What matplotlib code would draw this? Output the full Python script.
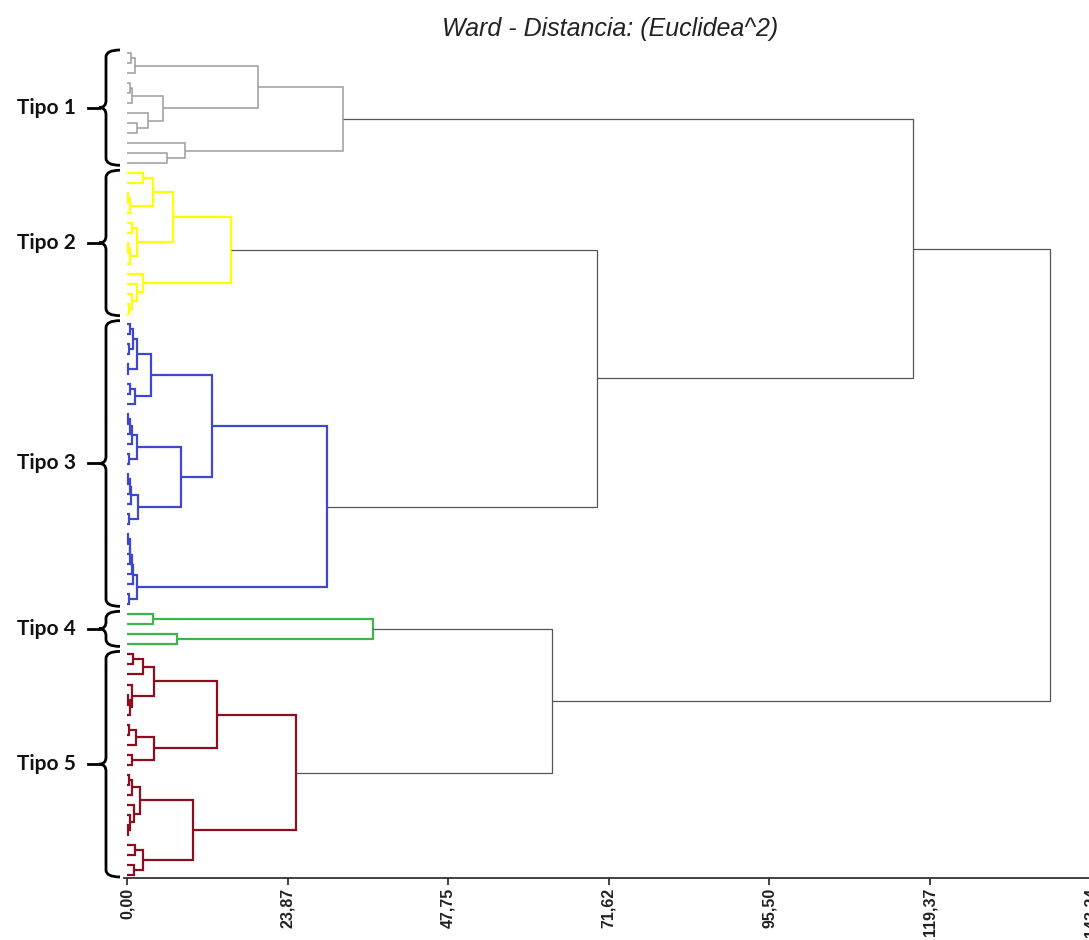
import matplotlib
matplotlib.use("Agg")
import matplotlib.pyplot as plt
from matplotlib.path import Path
from matplotlib.patches import PathPatch

# ---------------- data ----------------
title = "Ward - Distancia: (Euclidea^2)"
cluster_names = ["Tipo 1", "Tipo 2", "Tipo 3", "Tipo 4", "Tipo 5"]
cluster_colors = ["#9c9c9c", "#ffff00", "#3f48cc", "#3cb54a", "#8b0f1c"]
link_color = "#555555"

# clusters as nested (left, right, height) tuples, leaves = local indices
tipo1_tree = ((((0, 1, 0.6), 2, 1.2),
               (((3, 4, 0.4), 5, 0.8), (6, (7, 8, 1.5), 3.1), 5.4), 19.5),
              (9, (10, 11, 6.0), 8.6), 32.1)

tipo2_tree = (((((0, 1, 2.4), ((2, 3, 0.2), 4, 0.5), 3.9),
                ((5, 6, 0.8), ((7, 8, 0.2), 9, 0.5), 1.5), 6.9),
               (10, (11, (12, (13, 14, 0.3), 0.8), 1.5), 2.4), 15.5))

tipo3_tree = (((((((0, 1, 0.5), (2, 3, 0.3), 0.9), (4, 5, 0.2), 1.5),
                 ((6, 7, 0.4), 8, 1.2), 3.6),
                (((((9, 10, 0.2), 11, 0.4), 12, 0.7), (13, 14, 0.3), 1.5),
                 ((((15, 16, 0.2), 17, 0.4), 18, 0.6), (19, 20, 0.3), 1.7), 8.0),
                12.6),
               ((((((21, 22, 0.2), 23, 0.4), 24, 0.5), 25, 0.7), 26, 0.9),
                (27, 28, 0.3), 1.5), 29.7))

tipo4_tree = ((0, 1, 3.9), (2, 3, 7.4), 36.6)

tipo5_tree = (((((0, 1, 0.9), 2, 2.4), (3, ((4, 5, 0.2), 6, 0.4), 0.7), 4.0),
               (((7, 8, 0.3), 9, 1.4), (10, 11, 0.7), 4.0), 13.4),
              ((((12, 13, 0.3), 14, 0.8), (15, (16, (17, 18, 0.2), 0.5), 1.0), 1.9),
               ((19, 20, 1.2), (21, 22, 1.0), 2.4), 9.8), 25.1)

cluster_trees = [tipo1_tree, tipo2_tree, tipo3_tree, tipo4_tree, tipo5_tree]
cluster_sizes = [12, 15, 29, 4, 23]

# upper level merges (heights)
h_tipo2_tipo3 = 69.9
h_tipo1_rest = 116.8
h_tipo4_tipo5 = 63.2
h_root = 137.2

tick_values = [0.00, 23.87, 47.75, 71.62, 95.50, 119.37, 143.24]
tick_labels = ["0,00", "23,87", "47,75", "71,62", "95,50", "119,37", "143,24"]

# ---------------- figure ----------------
W, H = 1089, 940
fig = plt.figure(figsize=(W / 100, H / 100), dpi=100)
fig.patch.set_facecolor("white")

px_per_unit = 6.727
x0_px = 127
left_px, right_px = 123.6, 1100
xl = ((left_px - x0_px) / px_per_unit, (right_px - x0_px) / px_per_unit)
leaf0_px, leaf_step = 53.0, 10.024
bot_px, top_px = 878, 40
yl = ((bot_px - leaf0_px) / leaf_step, (top_px - leaf0_px) / leaf_step)

ax = fig.add_axes([left_px / W, (H - bot_px) / H,
                   (right_px - left_px) / W, (bot_px - top_px) / H])
ax.set_xlim(*xl)
ax.set_ylim(*yl)


def draw(node, offset, color, lw):
    if isinstance(node, int):
        return offset + node, 0.0
    l, r, h = node
    yl_, hl = draw(l, offset, color, lw)
    yr_, hr = draw(r, offset, color, lw)
    ax.plot([hl, h, h, hr], [yl_, yl_, yr_, yr_], color=color, lw=lw,
            solid_capstyle="butt", solid_joinstyle="miter")
    return (yl_ + yr_) / 2, h


def link(a, b, h):
    (ya, ha), (yb, hb) = a, b
    ax.plot([ha, h, h, hb], [ya, ya, yb, yb], color=link_color, lw=0.9,
            solid_capstyle="butt", solid_joinstyle="miter")
    return (ya + yb) / 2, h


tops = []
offset = 0
for tree, n, col in zip(cluster_trees, cluster_sizes, cluster_colors):
    lw = 1.1 if col == cluster_colors[0] else 1.6
    tops.append(draw(tree, offset, col, lw))
    offset += n

n23 = link(tops[1], tops[2], h_tipo2_tipo3)
n123 = link(tops[0], n23, h_tipo1_rest)
n45 = link(tops[3], tops[4], h_tipo4_tipo5)
link(n123, n45, h_root)

# braces and labels
def px2x(p):
    return (p - x0_px) / px_per_unit

hook_x, spine_x, point_x, dash_x, label_x = px2x(120), px2x(106), px2x(99), px2x(88), px2x(76)
offset = 0
for name, n in zip(cluster_names, cluster_sizes):
    top = offset - 0.3
    bot = offset + n - 1 + 0.2
    mid = (top + bot) / 2
    r = min(0.7, (bot - top) / 4)
    verts = [(hook_x, top), (spine_x, top), (spine_x, top + r),
             (spine_x, mid - r), (spine_x, mid), (point_x, mid),
             (spine_x, mid), (spine_x, mid + r),
             (spine_x, bot - r), (spine_x, bot), (hook_x, bot)]
    codes = [Path.MOVETO, Path.CURVE3, Path.CURVE3,
             Path.LINETO, Path.CURVE3, Path.CURVE3,
             Path.CURVE3, Path.CURVE3,
             Path.LINETO, Path.CURVE3, Path.CURVE3]
    ax.add_patch(PathPatch(Path(verts, codes), fill=False, lw=2.0,
                           edgecolor="black", clip_on=False))
    ax.plot([dash_x, point_x], [mid, mid], color="black", lw=2.0, clip_on=False)
    ax.text(label_x, mid, name, ha="right", va="center", fontsize=15,
            fontweight="bold", family=["Lato", "DejaVu Sans"], color="#111111",
            clip_on=False)
    offset += n

# axes styling
for s in ["top", "right", "left"]:
    ax.spines[s].set_visible(False)
ax.spines["bottom"].set_color("#333333")
ax.spines["bottom"].set_linewidth(1.3)
ax.set_yticks([])
ax.set_xticks(tick_values)
ax.set_xticklabels(tick_labels, rotation=90, fontsize=11.5, fontweight="bold",
                   family=["Liberation Sans", "DejaVu Sans"], color="#222222")
ax.tick_params(axis="x", length=5, width=1.3, color="#333333", pad=2)

fig.text(610 / W, 1 - 29 / H, title, ha="center", va="center", fontsize=18,
         style="italic", family=["Liberation Sans", "DejaVu Sans"], color="#222222")

fig.savefig("out.png", dpi=100)
